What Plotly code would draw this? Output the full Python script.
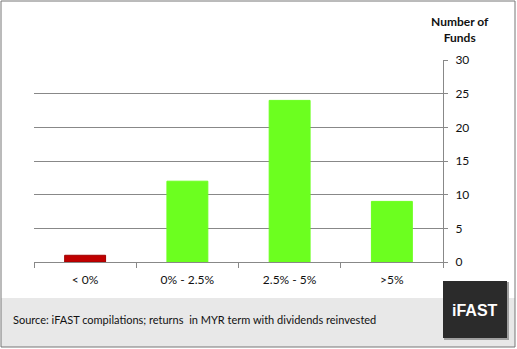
import plotly.graph_objects as go

categories = ["< 0%", "0% - 2.5%", "2.5% - 5%", ">5%"]
fund_counts = [1, 12, 24, 9]
bar_colors = ["#c00000", "#6cff1f", "#6cff1f", "#6cff1f"]
edge_colors = ["#a00000", "#6cff1f", "#6cff1f", "#6cff1f"]
y_ticks = [0, 5, 10, 15, 20, 25, 30]

W, H = 517, 349
L, R, T, B = 34, 74, 60, 87
pw, ph = W - L - R, H - T - B

def px(x):
    return (x - L) / pw

def py(y):
    return (H - B - y) / ph

fig = go.Figure()
fig.add_trace(go.Bar(
    x=categories, y=fund_counts, width=0.4,
    marker=dict(color=bar_colors, line=dict(color=edge_colors, width=1)),
))

font = "Lato, Open Sans, sans-serif"
fig.update_layout(
    width=W, height=H,
    margin=dict(l=L, r=R, t=T, b=B),
    paper_bgcolor="white", plot_bgcolor="white",
    showlegend=False,
    font=dict(family=font, size=12, color="#111"),
    xaxis=dict(
        type="category", showgrid=False, showline=True, linecolor="#888", linewidth=1,
        ticks="outside", tickson="boundaries", ticklen=5, tickcolor="#888",
        tickfont=dict(size=12), range=[-0.5, 3.5], ticklabelstandoff=7,
    ),
    yaxis=dict(
        side="right", range=[0, 30], tickvals=y_ticks, showgrid=True,
        gridcolor="#888", gridwidth=1, showline=True, linecolor="#888",
        ticks="outside", ticklen=4, tickcolor="#888", tickfont=dict(size=12),
        zeroline=False, ticklabelstandoff=5,
    ),
    shapes=[
        dict(type="rect", xref="paper", yref="paper",
             x0=px(1), x1=px(515), y0=py(298), y1=py(347),
             fillcolor="#e8e8e8", line=dict(width=0), layer="below"),
        dict(type="rect", xref="paper", yref="paper",
             x0=px(1), x1=px(515), y0=py(1), y1=py(347),
             fillcolor="rgba(0,0,0,0)", line=dict(color="#777", width=1)),
        dict(type="rect", xref="paper", yref="paper",
             x0=px(444), x1=px(509), y0=py(282), y1=py(340),
             fillcolor="#a0a0a0", line=dict(width=0)),
        dict(type="rect", xref="paper", yref="paper",
             x0=px(443), x1=px(507), y0=py(281), y1=py(338),
             fillcolor="#2b2b2b", line=dict(width=0)),
    ],
    annotations=[
        dict(text="<b>Number of<br>Funds</b>", xref="paper", yref="paper",
             x=px(460), y=py(29), showarrow=False, font=dict(size=12, family=font),
             xanchor="center", yanchor="middle", align="center"),
        dict(text="Source: iFAST compilations; returns  in MYR term with dividends reinvested",
             xref="paper", yref="paper", x=px(11), y=py(319), showarrow=False,
             xanchor="left", yanchor="middle", font=dict(size=11, family=font, color="#111")),
        dict(text="<b>iFAST</b>", xref="paper", yref="paper", x=px(475), y=py(310),
             showarrow=False, xanchor="center", yanchor="middle",
             font=dict(size=16, family="Liberation Sans, Arial, sans-serif", color="white")),
    ],
)

fig.write_html("out.html")
